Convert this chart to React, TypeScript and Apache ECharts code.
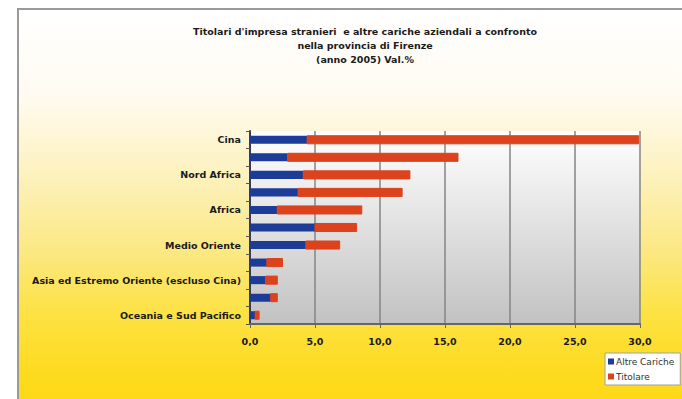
import React, { useEffect, useRef } from "react";
import * as echarts from "echarts";

const categories = [
  "Cina",
  "Europa Centro-Orientale",
  "Nord Africa",
  "Unione Europea",
  "Africa",
  "America Centro-Meridionale",
  "Medio Oriente",
  "Altri Paesi Europei",
  "Asia ed Estremo Oriente (escluso Cina)",
  "America Settentrionale",
  "Oceania e Sud Pacifico",
];
const altreCariche = [4.4, 2.9, 4.1, 3.7, 2.1, 5.0, 4.3, 1.3, 1.2, 1.6, 0.4];
const titolare = [25.5, 13.1, 8.2, 8.0, 6.5, 3.2, 2.6, 1.2, 0.9, 0.5, 0.3];
const titleLines = [
  "Titolari d'impresa stranieri  e altre cariche aziendali a confronto",
  "nella provincia di Firenze",
  "(anno 2005) Val.%",
];

export default function App() {
  const ref = useRef<HTMLDivElement>(null);
  useEffect(() => {
    document.body.style.margin = "0";
    const chart = echarts.init(ref.current!, null, { renderer: "svg" });
    const font = "'DejaVu Sans', Verdana, sans-serif";
    chart.setOption({
      animation: false,
      backgroundColor: "#ffffff",
      graphic: [
        {
          type: "rect",
          z: -10,
          shape: { x: 18, y: 9, width: 700, height: 420 },
          style: {
            fill: new echarts.graphic.LinearGradient(0, 0, 0, 1, [
              { offset: 0, color: "#ffffff" },
              { offset: 0.2, color: "#fffbf2" },
              { offset: 0.4, color: "#fdf1bc" },
              { offset: 0.58, color: "#fbe882" },
              { offset: 0.72, color: "#fde245" },
              { offset: 0.88, color: "#fdda1c" },
              { offset: 1, color: "#fdd812" },
            ]),
            stroke: "#9a9a9a",
            lineWidth: 2,
          },
        },
      ],
      title: {
        text: titleLines.join("\n"),
        left: 360,
        top: 19,
        textAlign: "center",
        textStyle: {
          fontFamily: font,
          fontSize: 9.5,
          fontWeight: "bold",
          lineHeight: 14,
          color: "#1a1a1a",
        },
      },
      legend: {
        orient: "vertical",
        left: 605,
        top: 353,
        itemWidth: 6,
        itemHeight: 6,
        itemGap: 6,
        icon: "rect",
        padding: [4, 6, 4, 3],
        backgroundColor: "#ffffff",
        borderColor: "#a0a0a0",
        borderWidth: 1,
        textStyle: { fontFamily: font, fontSize: 9, color: "#333", padding: [0, 0, 0, -3] },
        data: ["Altre Cariche", "Titolare"],
      },
      grid: {
        left: 250,
        right: 42,
        top: 131,
        bottom: 75,
        show: true,
        borderWidth: 0,
        backgroundColor: new echarts.graphic.LinearGradient(0, 0, 0, 1, [
          { offset: 0, color: "#ffffff" },
          { offset: 1, color: "#c2c2c2" },
        ]),
      },
      xAxis: {
        type: "value",
        min: 0,
        max: 30,
        interval: 5,
        axisLine: { show: true, lineStyle: { color: "#666", width: 2 } },
        axisTick: { show: true, length: 4, lineStyle: { color: "#666" } },
        splitLine: { show: true, lineStyle: { color: "#858585", width: 1.5 } },
        axisLabel: {
          margin: 12,
          fontFamily: font,
          fontSize: 9.5,
          fontWeight: "bold",
          color: "#1a1a1a",
          formatter: (v: number) => v.toFixed(1).replace(".", ","),
        },
      },
      yAxis: {
        type: "category",
        data: categories,
        inverse: true,
        axisLine: { show: true, lineStyle: { color: "#3a3a5a", width: 2 } },
        axisTick: { show: true, length: 4, interval: 0, lineStyle: { color: "#555" } },
        axisLabel: {
          interval: 1,
          margin: 9,
          fontFamily: font,
          fontSize: 9.5,
          fontWeight: "bold",
          color: "#1a1a1a",
        },
      },
      series: [
        {
          name: "Altre Cariche",
          type: "bar",
          stack: "tot",
          data: altreCariche,
          barCategoryGap: "54%",
          itemStyle: { color: "#1d3c98" },
        },
        {
          name: "Titolare",
          type: "bar",
          stack: "tot",
          data: titolare,
          barCategoryGap: "54%",
          itemStyle: { color: "#dc421c", borderColor: "#dc421c" },
        },
      ],
    });
    return () => chart.dispose();
  }, []);
  return (
    <div
      ref={ref}
      style={{ position: "absolute", left: 0, top: 0, width: 682, height: 399 }}
    />
  );
}
